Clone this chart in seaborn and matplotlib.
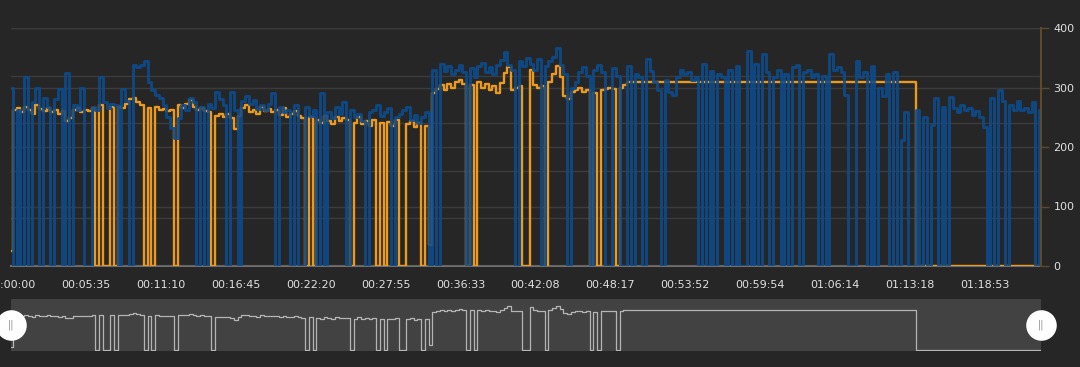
import numpy as np
import pandas as pd
import matplotlib
matplotlib.use("Agg")
import matplotlib.pyplot as plt
import matplotlib.transforms as mtransforms
import seaborn as sns

# valores (um ponto a cada ~3.7 px)
series_blue = [
    300, 0, 262, 0, 318, 0, 276, 300, 0, 282,
    268, 0, 280, 298, 0, 324, 0, 270, 262, 300,
    0, 0, 268, 262, 318, 275, 266, 272, 270, 0,
    298, 278, 0, 338, 335, 337, 344, 310, 296, 288,
    282, 270, 250, 232, 215, 248, 270, 262, 282, 275,
    0, 268, 0, 272, 266, 293, 280, 270, 0, 293,
    262, 0, 278, 286, 272, 279, 264, 270, 262, 273,
    290, 0, 268, 258, 262, 0, 270, 0, 0, 268,
    252, 262, 0, 290, 0, 258, 248, 268, 256, 276,
    0, 262, 250, 256, 244, 0, 258, 262, 270, 252,
    258, 266, 0, 250, 256, 262, 268, 246, 254, 240,
    250, 258, 0, 330, 0, 340, 328, 336, 322, 330,
    338, 326, 0, 332, 318, 336, 342, 326, 334, 322,
    338, 346, 360, 338, 330, 0, 344, 336, 350, 340,
    330, 348, 0, 336, 344, 352, 366, 338, 322, 0,
    300, 310, 326, 334, 320, 0, 330, 338, 326, 0,
    0, 332, 320, 0, 0, 336, 0, 322, 318, 0,
    348, 328, 310, 296, 0, 312, 292, 288, 318, 330,
    322, 326, 312, 318, 0, 340, 0, 328, 0, 322,
    318, 0, 330, 0, 336, 0, 0, 362, 0, 340,
    0, 356, 326, 0, 318, 330, 0, 322, 0, 334,
    338, 0, 326, 330, 318, 322, 0, 320, 0, 356,
    330, 334, 326, 288, 0, 0, 344, 318, 326, 0,
    336, 0, 300, 285, 322, 0, 326, 0, 212, 258,
    0, 0, 262, 0, 250, 0, 237, 282, 0, 268,
    0, 284, 266, 258, 270, 262, 266, 254, 260, 250,
    234, 0, 282, 0, 296, 278, 0, 270, 262, 278,
    262, 266, 258, 276, 0, 262,
]

series_orange = [
    25, 262, 266, 258, 268, 262, 256, 270, 264, 260,
    266, 258, 262, 256, 260, 243, 248, 262, 265, 258,
    262, 260, 266, 0, 270, 0, 0, 268, 0, 268,
    266, 272, 280, 282, 276, 270, 0, 265, 0, 268,
    262, 264, 260, 262, 0, 270, 266, 272, 279, 268,
    262, 266, 260, 258, 0, 252, 255, 250, 256, 248,
    231, 252, 266, 270, 258, 262, 255, 268, 260, 264,
    258, 262, 254, 265, 251, 256, 260, 252, 248, 0,
    250, 0, 246, 240, 252, 244, 238, 250, 243, 248,
    245, 0, 240, 250, 238, 244, 236, 246, 0, 240,
    0, 242, 236, 245, 0, 0, 238, 244, 234, 240,
    0, 236, 35, 290, 298, 304, 296, 306, 300, 310,
    313, 306, 0, 304, 0, 310, 300, 306, 296, 302,
    290, 307, 324, 335, 296, 300, 302, 0, 0, 330,
    305, 300, 302, 0, 310, 322, 336, 318, 285, 280,
    292, 296, 300, 293, 296, 0, 290, 0, 296, 298,
    300, 297, 0, 300, 305, 309, 309, 309, 309, 309,
    309, 309, 309, 309, 309, 309, 309, 309, 309, 309,
    309, 309, 309, 309, 309, 309, 309, 309, 309, 309,
    309, 309, 309, 309, 309, 309, 309, 309, 309, 309,
    309, 309, 309, 309, 309, 309, 309, 309, 309, 309,
    309, 309, 309, 309, 309, 309, 309, 309, 309, 309,
    309, 309, 309, 309, 309, 309, 309, 309, 309, 309,
    309, 309, 309, 309, 309, 309, 309, 309, 309, 309,
    309, 309, 0, 0, 0, 0, 0, 0, 0, 0,
    0, 0, 0, 0, 0, 0, 0, 0, 0, 0,
    0, 0, 0, 0, 0, 0, 0, 0, 0, 0,
    0, 0, 0, 0, 0, 0,
]

tick_step = 20
time_labels = ["00:00:00", "00:05:35", "00:11:10", "00:16:45", "00:22:20",
               "00:27:55", "00:36:33", "00:42:08", "00:48:17", "00:53:52",
               "00:59:54", "01:06:14", "01:13:18", "01:18:53"]
right_ticks = [0, 100, 200, 300, 400]
left_ticks = [0, 50, 100, 150, 200, 250]

df = pd.DataFrame({
    "idx": np.arange(len(series_blue)),
    "blue": series_blue,
    "orange": series_orange,
})

bg = "#262626"
grid_c = "#3b3b3b"
text_c = "#e0e0e0"
axis_c = "#5e4a2a"
blue_c = "#0d4b8c"
orange_c = "#eb9a1e"

sns.set_theme(style="dark", rc={
    "figure.facecolor": bg,
    "axes.facecolor": bg,
    "axes.axisbelow": True,
})
plt.rcParams["font.family"] = ["DejaVu Sans"]

fig = plt.figure(figsize=(10.8, 3.67), dpi=100)
x0, x1 = 11 / 1080, 1041 / 1080
ax_left = fig.add_axes([x0, 101 / 367, x1 - x0, 238 / 367])
ax = ax_left.twinx()

# eixo esquerdo oculto (só as linhas de grade)
ax_left.set_ylim(0, 250)
ax_left.set_yticks(left_ticks)
ax_left.set_yticklabels([])
ax_left.tick_params(axis="y", length=0)
ax_left.grid(True, axis="y", color=grid_c, linewidth=1)
ax_left.grid(False, axis="x")
for s in ["top", "left", "right"]:
    ax_left.spines[s].set_visible(False)
ax_left.spines["bottom"].set_color("#6e6e6e")
ax_left.spines["bottom"].set_linewidth(1.5)

xmax = df["idx"].iloc[-1]
ax_left.set_xlim(0, xmax)
ax_left.set_xticks(np.arange(len(time_labels)) * tick_step)
ax_left.set_xticklabels(time_labels, color=text_c, fontsize=8)
ax_left.tick_params(axis="x", length=0, pad=10)

# séries
sns.lineplot(data=df, x="idx", y="orange", ax=ax, color=orange_c,
             linewidth=1.7, drawstyle="steps-mid", estimator=None)
sns.lineplot(data=df, x="idx", y="blue", ax=ax, color=blue_c,
             linewidth=2.1, drawstyle="steps-mid", estimator=None, alpha=0.9)
ax.set_xlim(0, xmax)
ax.set_ylim(0, 400)
ax.set_yticks(right_ticks)
ax.set_yticklabels([str(v) for v in right_ticks], color=text_c, fontsize=8)
ax.tick_params(axis="y", length=6, width=1, color=axis_c, pad=3)
ax.grid(True, axis="y", color=grid_c, linewidth=1)
ax.set_xlabel("")
ax.set_ylabel("")
for s in ["top", "left", "bottom"]:
    ax.spines[s].set_visible(False)
ax.spines["right"].set_color(axis_c)
ax.spines["right"].set_linewidth(1.5)

# navegador
ax_nav = fig.add_axes([x0, 16 / 367, x1 - x0, 52 / 367])
ax_nav.set_facecolor("#424242")
sns.lineplot(data=df, x="idx", y="orange", ax=ax_nav, color="#b4b4b4",
             linewidth=0.9, drawstyle="steps-mid", estimator=None)
ax_nav.set_xlim(0, xmax)
ax_nav.set_ylim(-8, 392)
ax_nav.set_xticks([])
ax_nav.set_yticks([])
ax_nav.set_xlabel("")
ax_nav.set_ylabel("")
for s in ax_nav.spines.values():
    s.set_visible(False)

trans = mtransforms.blended_transform_factory(ax_nav.transData, ax_nav.transAxes)
for hx in [0, xmax]:
    ax_nav.plot([hx], [0.5], marker="o", markersize=22, color="white",
                markeredgewidth=0, transform=trans, clip_on=False, zorder=10)
    ax_nav.text(hx, 0.5, "||", color="#8c8c8c", fontsize=7, ha="center",
                va="center", transform=trans, zorder=11, clip_on=False)

fig.savefig("out.png", dpi=100, facecolor=bg)
